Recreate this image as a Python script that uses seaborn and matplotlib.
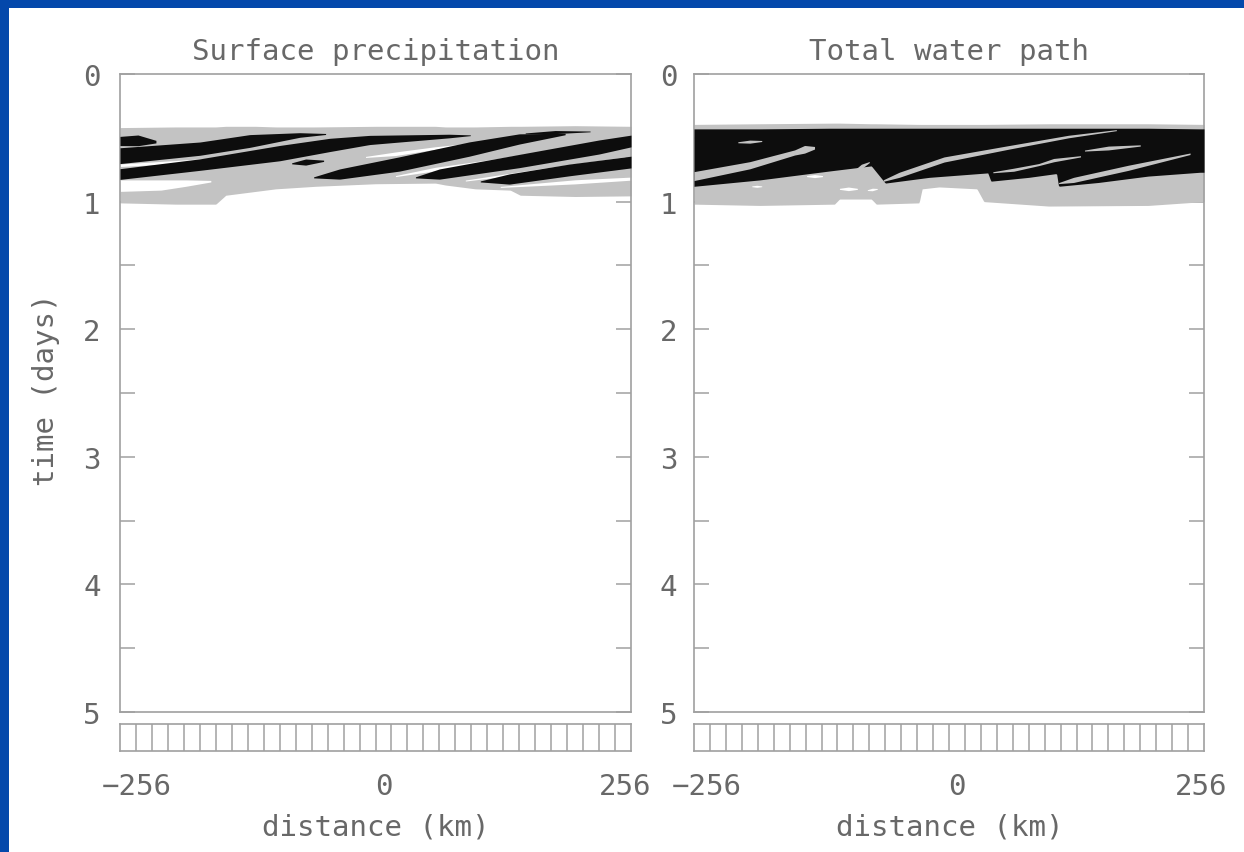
import numpy as np
import matplotlib
matplotlib.use("Agg")
import matplotlib.pyplot as plt
import seaborn as sns
from matplotlib.patches import Rectangle
from matplotlib.ticker import MultipleLocator
from matplotlib.transforms import ScaledTranslation

# ---------------- data (distance km, time days) ----------------
TITLES = ["Surface precipitation", "Total water path"]
X_TICKS = [-256, 0, 256]
X_TICK_LABELS = ["\u2212256", "0", "256"]
Y_TICKS = [0, 1, 2, 3, 4, 5]
N_CELLS = 32

# Panel 1: grey (light precip) envelope
P1_GRAY_X = [-256, -200, -160, -150, -120, -100, -60, 0, 60, 70, 100, 135, 145, 200, 256]
P1_GRAY_TOP = [0.42, 0.415, 0.415, 0.41, 0.41, 0.415, 0.415, 0.41, 0.41, 0.415, 0.415, 0.41, 0.41, 0.405, 0.41]
P1_GRAY_BOT = [1.01, 1.02, 1.02, 0.95, 0.92, 0.90, 0.88, 0.86, 0.855, 0.87, 0.90, 0.91, 0.95, 0.96, 0.955]

# Panel 1: white gaps inside the grey (x, t, half-width)
P1_WHITE = [
    [(-256, 0.715, 0.01), (-200, 0.69, 0.012), (-150, 0.655, 0.005)],
    [(-256, 0.875, 0.045), (-215, 0.87, 0.04), (-190, 0.855, 0.025), (-165, 0.84, 0.006)],
    [(-10, 0.65, 0.004), (20, 0.625, 0.014), (60, 0.58, 0.01), (90, 0.55, 0.004)],
    [(20, 0.80, 0.004), (60, 0.745, 0.014), (120, 0.675, 0.01), (170, 0.605, 0.004)],
    [(90, 0.835, 0.004), (170, 0.75, 0.014), (250, 0.655, 0.006)],
    [(125, 0.885, 0.004), (200, 0.845, 0.016), (256, 0.82, 0.012)],
]

# Panel 1: black (heavy precip) streaks (x, t, half-width)
P1_BLACK = [
    [(-256, 0.525, 0.036), (-238, 0.52, 0.042), (-220, 0.53, 0.01)],
    [(-256, 0.64, 0.062), (-176, 0.585, 0.052), (-126, 0.525, 0.05), (-76, 0.478, 0.018), (-50, 0.47, 0.004)],
    [(-256, 0.784, 0.042), (-176, 0.71, 0.045), (-96, 0.62, 0.06), (-46, 0.556, 0.052), (-6, 0.517, 0.036), (74, 0.486, 0.014), (95, 0.48, 0.003)],
    [(-84, 0.70, 0.004), (-70, 0.69, 0.024), (-52, 0.68, 0.005)],
    [(-62, 0.81, 0.004), (-36, 0.784, 0.04), (24, 0.705, 0.056), (94, 0.588, 0.056), (144, 0.509, 0.04), (190, 0.47, 0.006)],
    [(40, 0.81, 0.004), (64, 0.784, 0.04), (144, 0.682, 0.052), (224, 0.572, 0.055), (256, 0.525, 0.046)],
    [(105, 0.842, 0.004), (134, 0.823, 0.04), (194, 0.752, 0.046), (256, 0.69, 0.046)],
    [(150, 0.465, 0.003), (180, 0.455, 0.012), (215, 0.45, 0.003)],
]

# Panel 2: grey envelope
P2_GRAY_X = [-256, -190, -115, -110, -78, -73, -30, -27, -10, 28, 35, 100, 200, 256]
P2_GRAY_TOP = [0.395, 0.39, 0.385, 0.385, 0.39, 0.39, 0.395, 0.395, 0.395, 0.395, 0.395, 0.39, 0.39, 0.395]
P2_GRAY_BOT = [1.02, 1.03, 1.02, 0.98, 0.98, 1.02, 1.01, 0.90, 0.885, 0.90, 1.0, 1.035, 1.03, 1.0]

# Panel 2: black envelope
P2_BLACK_X = [-256, -190, -120, -78, -64, -20, 39, 42, 80, 108, 110, 150, 200, 252, 256]
P2_BLACK_TOP = [0.43, 0.43, 0.425, 0.425, 0.425, 0.425, 0.425, 0.425, 0.425, 0.425, 0.425, 0.425, 0.425, 0.43, 0.43]
P2_BLACK_BOT = [0.88, 0.83, 0.76, 0.72, 0.855, 0.81, 0.775, 0.84, 0.81, 0.78, 0.88, 0.85, 0.80, 0.77, 0.77]

# Panel 2: grey streaks inside the black (x, t, half-width)
P2_GRAY_STREAKS = [
    [(-256, 0.80, 0.035), (-200, 0.715, 0.028), (-155, 0.615, 0.02), (-145, 0.59, 0.03), (-135, 0.578, 0.01)],
    [(-212, 0.535, 0.004), (-200, 0.53, 0.012), (-188, 0.525, 0.004)],
    [(-66, 0.835, 0.006), (-50, 0.79, 0.02), (-5, 0.67, 0.02), (60, 0.575, 0.014), (120, 0.49, 0.01), (168, 0.44, 0.004)],
    [(44, 0.77, 0.004), (65, 0.75, 0.012), (90, 0.71, 0.008), (105, 0.675, 0.013), (132, 0.645, 0.005)],
    [(136, 0.60, 0.004), (160, 0.58, 0.015), (192, 0.56, 0.005)],
    [(110, 0.855, 0.004), (125, 0.83, 0.02), (180, 0.735, 0.02), (242, 0.625, 0.006)],
    [(-97, 0.77, 0.004), (-88, 0.725, 0.018), (-80, 0.69, 0.004)],
]

# Panel 2: white specks in the grey
P2_WHITE = [
    [(-143, 0.80, 0.004), (-135, 0.80, 0.012), (-127, 0.80, 0.004)],
    [(-110, 0.90, 0.004), (-101, 0.90, 0.014), (-92, 0.90, 0.004)],
    [(-198, 0.88, 0.003), (-193, 0.88, 0.008), (-188, 0.88, 0.003)],
    [(-82, 0.91, 0.003), (-77, 0.905, 0.01), (-72, 0.90, 0.003)],
]

# ---------------- style ----------------
BLUE = "#0448ab"
GREY = "#c3c3c3"
BLACK = "#0d0d0d"
LINE = "#a0a0a0"
TEXT = "#686868"
FS = 21

sns.set_theme(style="white")
plt.rcParams["font.family"] = ["DejaVu Sans Mono", "DejaVu Sans"]
plt.rcParams["axes.unicode_minus"] = True

W, H = 1244, 853
fig = plt.figure(figsize=(W / 100, H / 100), dpi=100, facecolor=BLUE)
fig.patches.append(Rectangle((9 / W, 0), 1, 1 - 9 / H, transform=fig.transFigure,
                             facecolor="white", edgecolor="none", zorder=-10))


def rect(l, t, r, b):
    return [l / W, 1 - b / H, (r - l) / W, (b - t) / H]


def fill_env(ax, xs, top, bot, color, z):
    xf = np.linspace(min(xs), max(xs), 600)
    ax.fill_between(xf, np.interp(xf, xs, top), np.interp(xf, xs, bot),
                    color=color, lw=0, zorder=z)


def fill_streak(ax, pts, color, z):
    x = np.array([p[0] for p in pts], float)
    t = np.array([p[1] for p in pts], float)
    h = np.array([p[2] for p in pts], float)
    xf = np.linspace(x[0], x[-1], 200)
    tc = np.interp(xf, x, t)
    hh = np.interp(xf, x, h)
    ax.fill_between(xf, tc - hh, tc + hh, color=color, lw=0, zorder=z)


def style_main(ax, pad):
    ax.set_xlim(-256, 256)
    ax.set_ylim(5, 0)
    ax.set_facecolor("white")
    for s in ax.spines.values():
        s.set_color(LINE)
        s.set_linewidth(1.2)
        s.set_visible(True)
    ax.set_xticks([])
    ax.set_yticks(Y_TICKS)
    ax.set_yticklabels([str(v) for v in Y_TICKS])
    ax.yaxis.set_minor_locator(MultipleLocator(0.5))
    ax.tick_params(axis="y", which="both", direction="in", left=True, right=True,
                   length=11, width=1.1, color=LINE, labelsize=FS, labelcolor=TEXT, pad=pad)
    ax.grid(False)


def style_strip(ax, offsets):
    ax.set_xlim(-256, 256)
    ax.set_ylim(0, 1)
    ax.set_facecolor("white")
    for s in ax.spines.values():
        s.set_color(LINE)
        s.set_linewidth(1.2)
        s.set_visible(True)
    edges = np.linspace(-256, 256, N_CELLS + 1)[1:-1]
    ax.vlines(edges, 0, 1, color=LINE, lw=1.1)
    ax.set_yticks([])
    ax.set_xticks(X_TICKS)
    ax.set_xticklabels(X_TICK_LABELS)
    ax.tick_params(axis="x", length=0, labelsize=FS, labelcolor=TEXT, pad=15)
    for lab, dx in zip(ax.get_xticklabels(), offsets):
        lab.set_transform(lab.get_transform() + ScaledTranslation(dx / 100, 0, fig.dpi_scale_trans))
    ax.grid(False)


# Panel 1
ax1 = fig.add_axes(rect(120, 75, 631, 713))
fill_env(ax1, P1_GRAY_X, P1_GRAY_TOP, P1_GRAY_BOT, GREY, 1)
for s in P1_WHITE:
    fill_streak(ax1, s, "white", 2)
for s in P1_BLACK:
    fill_streak(ax1, s, BLACK, 3)
style_main(ax1, 14)
ax1.set_title(TITLES[0], fontsize=FS, color=TEXT, pad=11)

# Panel 2
ax2 = fig.add_axes(rect(694, 75, 1204, 713))
fill_env(ax2, P2_GRAY_X, P2_GRAY_TOP, P2_GRAY_BOT, GREY, 1)
for s in P2_WHITE:
    fill_streak(ax2, s, "white", 2)
fill_env(ax2, P2_BLACK_X, P2_BLACK_TOP, P2_BLACK_BOT, BLACK, 3)
for s in P2_GRAY_STREAKS:
    fill_streak(ax2, s, GREY, 4)
style_main(ax2, 12)
ax2.set_title(TITLES[1], fontsize=FS, color=TEXT, pad=11)

# strips
s1 = fig.add_axes(rect(120, 725, 631, 752))
style_strip(s1, [17, 8, -6])
s2 = fig.add_axes(rect(694, 725, 1204, 752))
style_strip(s2, [13, 8, -3])

# axis labels
fig.text(376 / W, 1 - 828 / H, "distance (km)", ha="center", va="center", fontsize=FS, color=TEXT)
fig.text(950 / W, 1 - 828 / H, "distance (km)", ha="center", va="center", fontsize=FS, color=TEXT)
fig.text(46 / W, 1 - 390 / H, "time (days)", ha="center", va="center", rotation=90, fontsize=FS, color=TEXT)

fig.savefig("out.png", dpi=100, facecolor=fig.get_facecolor())
